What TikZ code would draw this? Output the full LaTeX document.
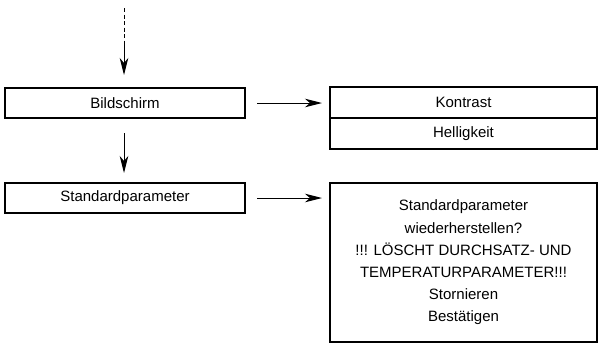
\documentclass[tikz,border=0pt]{standalone}
\usepackage{fontspec}
\setmainfont{Liberation Sans}
\usetikzlibrary{positioning, arrows.meta}

\tikzset{
  menubox/.style = {draw, line width=1.3pt, minimum width=240pt, minimum height=30pt,
                    inner sep=0pt, outer sep=0pt, font=\fontsize{15}{18}\selectfont},
  subbox/.style  = {menubox, minimum width=267pt, minimum height=31pt},
  flow/.style    = {-{Stealth[length=17pt, width=8.5pt, inset=5pt]}, line width=1pt}
}

\begin{document}
\begin{tikzpicture}[x=1pt, y=-1pt]
    \useasboundingbox (0,0) rectangle (600,343);

    \node[menubox] (bild) at (125,103) {Bildschirm};
    \node[menubox] (std) at (125,198) {Standardparameter};

    \node[subbox] (kontrast) at (463.5,102.5) {Kontrast};
    \node[subbox] (hell) [below=0pt of kontrast] {Helligkeit};
    \node[subbox, minimum height=159pt, align=center,
          font=\fontsize{15}{22.2}\selectfont] (reset) at (463.5,262.5)
      {Standardparameter\\ wiederherstellen?\\ !!! LÖSCHT DURCHSATZ- UND\\
       TEMPERATURPARAMETER!!!\\ Stornieren\\ Bestätigen};

    % incoming from previous menu
    \coordinate (top) at (124,8);
    \coordinate (mid) at (124,45);
    \draw[dashed, dash pattern=on 4pt off 2.5pt, line width=1pt] (top) -- (mid);
    \draw[flow, shorten >=13pt] (mid) -- (mid |- bild.north);

    \draw[flow, shorten <=15pt, shorten >=10pt] ([xshift=-1pt]bild.south) -- ([xshift=-1pt]std.north);
    \draw[flow, shorten <=12pt, shorten >=8pt] (bild.east) -- (bild.east -| kontrast.west);
    \draw[flow, shorten <=12pt, shorten >=8pt] (std.east) -- (std.east -| reset.west);
\end{tikzpicture}
\end{document}
